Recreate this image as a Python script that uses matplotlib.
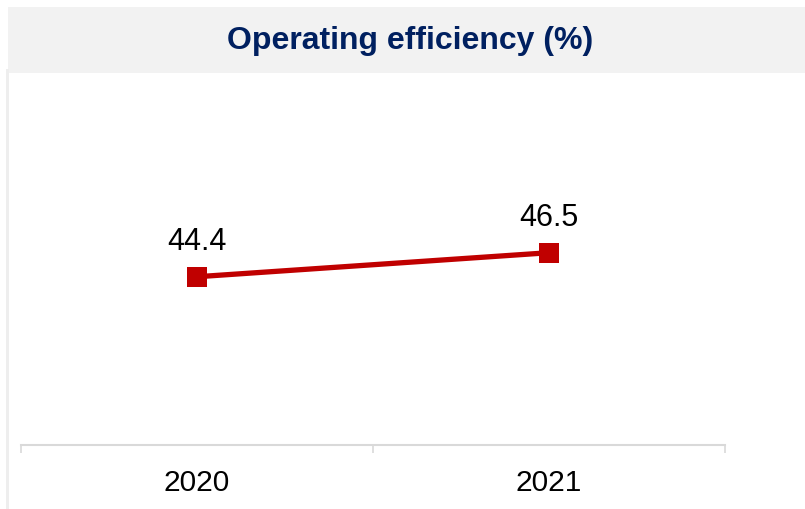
#!/usr/bin/env python3
# coding: utf-8
import matplotlib

matplotlib.use("Agg")
import matplotlib.pyplot as plt
from matplotlib.patches import Rectangle

# Data
YEARS = ["2020", "2021"]
EFFICIENCY = [44.4, 46.5]
TITLE = "Operating efficiency (%)"

# Styling
LINE_COLOR = "#C00000"
TITLE_COLOR = "#002060"
BAND_COLOR = "#F2F2F2"
AXIS_COLOR = "#D9D9D9"
W, H, DPI = 805, 509, 100

plt.rcParams["font.family"] = ["Liberation Sans", "DejaVu Sans"]

fig = plt.figure(figsize=(W / DPI, H / DPI), dpi=DPI)

# title band and left border strip
fig.patches.append(
    Rectangle((8 / W, 1 - 73 / H), 1 - 8 / W, 66 / H, transform=fig.transFigure,
              facecolor=BAND_COLOR, edgecolor="none", zorder=0)
)
fig.patches.append(
    Rectangle((6 / W, 0), 3 / W, 1 - 69 / H, transform=fig.transFigure,
              facecolor="#EEEEEE", edgecolor="none", zorder=0)
)
fig.text(410 / W, 1 - 41 / H, TITLE, ha="center", va="center",
         fontsize=23, fontweight="bold", color=TITLE_COLOR)

ax = fig.add_axes([21 / W, 1 - 445 / H, 704 / W, 372 / H])
ax.patch.set_alpha(0)

x = list(range(len(YEARS)))
ax.plot(x, EFFICIENCY, color=LINE_COLOR, lw=3.8, marker="s", ms=14.5,
        markeredgewidth=0, clip_on=False)
for xi, v in zip(x, EFFICIENCY):
    ax.annotate(f"{v:.1f}", (xi, v), xytext=(0, 19.5), textcoords="offset points",
                ha="center", va="baseline", fontsize=22, color="black")

ax.set_xlim(-0.5, len(YEARS) - 0.5)
ax.set_ylim(29.7, 62.2)
ax.set_yticks([])
ax.set_xticks(x)
ax.set_xticklabels(YEARS, fontsize=21.5)
ax.set_xticks([i - 0.5 for i in range(len(YEARS) + 1)], minor=True)
ax.tick_params(axis="x", which="major", length=0, pad=17.5)
ax.tick_params(axis="x", which="minor", length=6, width=1.2, color=AXIS_COLOR,
               direction="out")

for side in ("top", "right", "left"):
    ax.spines[side].set_visible(False)
ax.spines["bottom"].set_color(AXIS_COLOR)
ax.spines["bottom"].set_linewidth(1.5)

fig.savefig("out.png", dpi=DPI)
